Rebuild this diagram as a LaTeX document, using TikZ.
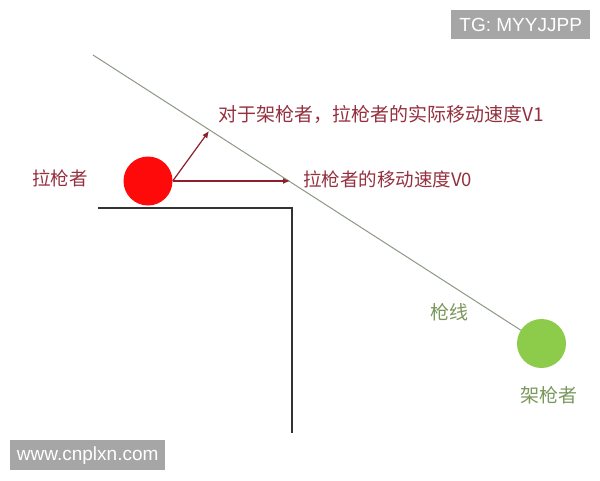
\documentclass[tikz,border=0pt]{standalone}
\usepackage{fontspec}
\setmainfont{Liberation Sans}
\newfontfamily\cjk{Noto Sans CJK SC}
\usetikzlibrary{arrows.meta}
\definecolor{labred}{HTML}{94303F}
\definecolor{arrred}{HTML}{8E1F2A}
\definecolor{ballred}{HTML}{FF0A0A}
\definecolor{ballgreen}{HTML}{8DCB4A}
\definecolor{labgreen}{HTML}{7A975C}
\definecolor{gunline}{HTML}{8C9884}
\definecolor{wmgray}{HTML}{A6A6A6}
\tikzset{
  ball/.style={circle, inner sep=0pt, minimum size=49pt},
  redlabel/.style={text=labred, inner sep=0pt, font=\cjk\fontsize{18.5}{18.5}\selectfont},
  greenlabel/.style={text=labgreen, inner sep=0pt, font=\cjk\fontsize{19}{19}\selectfont},
  velarrow/.style={draw=arrred, line width=1.2pt, -{Latex[length=7pt,width=6pt]}},
  gunstyle/.style={draw=gunline, line width=1pt},
  ledge/.style={draw=black!80, line width=2pt},
  watermark/.style={fill=wmgray, text=white, inner sep=0pt, anchor=north west,
    font=\fontsize{19}{19}\selectfont}
}
\begin{document}
\begin{tikzpicture}[x=1pt,y=-1pt]
\useasboundingbox (0,0) rectangle (600,480);
% watermarks
\node[watermark, minimum width=139pt, minimum height=29pt] (tg) at (451,10) {TG: MYYJJPP};
\node[watermark, minimum width=155pt, minimum height=30pt] (www) at (10,440) {www.cnplxn.com};
% ledge
\coordinate (ledgeL) at (98,208);
\coordinate (ledgeC) at (292,208);
\coordinate (ledgeB) at (292,433);
\draw[ledge] (ledgeL) -- (ledgeC) -- (ledgeB);
% balls
\node[ball, fill=ballred] (puller) at (148,181) {};
\node[ball, fill=ballgreen] (holder) at (541.5,343.5) {};
% gun line
\coordinate (gunstart) at (93,55);
\draw[gunstyle] (gunstart) -- (holder);
% velocity arrows
\coordinate (v0tip) at (290,181);
\coordinate (v1tip) at (209,131);
\draw[velarrow] (puller.east) -- (v0tip);
\draw[velarrow] (puller.east) -- (v1tip);
% labels
\node[redlabel, anchor=west] (pullerlab) at (32,178) {拉枪者};
\node[redlabel, anchor=west] (v0lab) at (303,179) {拉枪者的移动速度V0};
\node[redlabel, anchor=west, font=\cjk\fontsize{19}{19}\selectfont] (v1lab) at (218,114) {对于架枪者，拉枪者的实际移动速度V1};
\node[greenlabel] (gunlab) at (449,312) {枪线};
\node[greenlabel] (holderlab) at (548.5,395) {架枪者};
\end{tikzpicture}
\end{document}
